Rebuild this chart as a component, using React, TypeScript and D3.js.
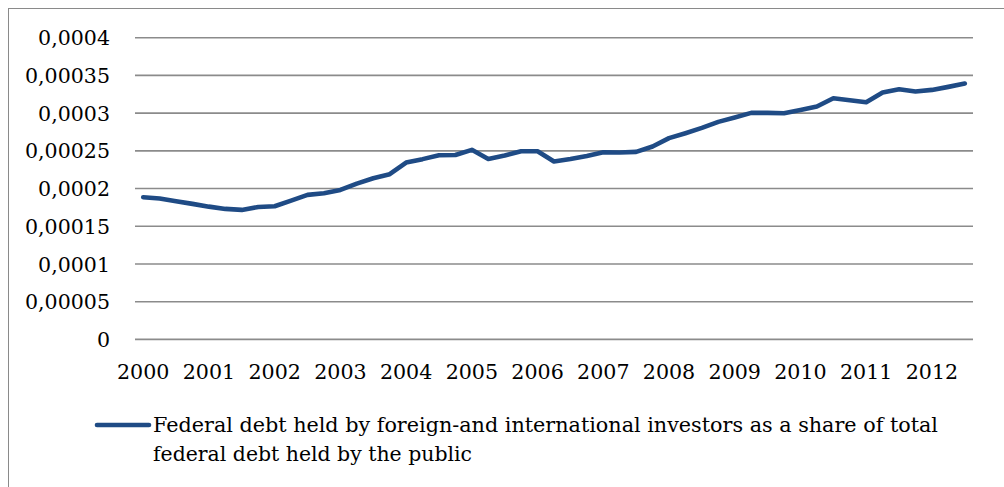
import React from "react";
import * as d3 from "d3";

const years = ["2000","2001","2002","2003","2004","2005","2006","2007","2008","2009","2010","2011","2012"];
// quarterly observations 2000Q1 .. 2012Q3 (in units of 1e-5)
const seriesValues = [
  18.85, 18.67, 18.32, 17.97, 17.6, 17.3, 17.17, 17.55, 17.66, 18.4,
  19.16, 19.38, 19.82, 20.66, 21.37, 21.9, 23.45, 23.9, 24.42, 24.45,
  25.13, 23.93, 24.37, 24.95, 24.95, 23.58, 23.93, 24.33, 24.82, 24.77,
  24.86, 25.57, 26.68, 27.34, 28.04, 28.84, 29.41, 30.03, 30.03, 29.99,
  30.43, 30.87, 31.98, 31.71, 31.45, 32.73, 33.17, 32.86, 33.08, 33.48,
  33.92,
];
const yTicks = [0, 0.00005, 0.0001, 0.00015, 0.0002, 0.00025, 0.0003, 0.00035, 0.0004];
const yTickLabels = ["0", "0,00005", "0,0001", "0,00015", "0,0002", "0,00025", "0,0003", "0,00035", "0,0004"];
const legendLines = [
  "Federal debt held by foreign-and international investors as a share of total",
  "federal debt held by the public",
];

const W = 1004;
const H = 487;
const FONT = "'DejaVu Serif', 'Liberation Serif', 'Noto Serif', Tinos, Times, serif";
const LINE_COLOR = "#1F4B85";
const GRID_COLOR = "#8B8B8B";
const FS = 21;

// approximate advance width of a tick label in the reference (digits ~13.2px, comma ~6.6px)
const labelWidth = (s: string) =>
  s.split("").reduce((w, ch) => w + (ch === "," ? 6.4 : 13.1), 0);

export default function App() {
  const data = seriesValues.map((v, i) => ({ i, v: v * 1e-5 }));
  const x = d3.scaleBand<number>().domain(data.map((d) => d.i)).range([135, 973]).padding(0);
  const y = d3.scaleLinear().domain([0, 0.0004]).range([339.4, 37.7]);
  const cx = (i: number) => (x(i) as number) + x.bandwidth() / 2;
  const line = d3.line<{ i: number; v: number }>().x((d) => cx(d.i)).y((d) => y(d.v));

  return (
    <svg width={W} height={H} style={{ position: "absolute", left: 0, top: 0, background: "#fff", fontFamily: FONT }}>
      <rect x={8.5} y={8.5} width={1200} height={800} fill="#fff" stroke="#8a8a8a" strokeWidth={1} />
      {yTicks.map((t, k) => {
        const w = labelWidth(yTickLabels[k]);
        return (
          <g key={k}>
            <line x1={135} x2={973} y1={y(t)} y2={y(t)} stroke={GRID_COLOR} strokeWidth={1.6} />
            <text x={110 - w} y={y(t) + 7.6} style={{ fontFamily: FONT }} fontSize={FS} fill="#000"
              textLength={w} lengthAdjust="spacingAndGlyphs">
              {yTickLabels[k]}
            </text>
          </g>
        );
      })}
      {years.map((yr, k) => {
        const w = labelWidth(yr);
        return (
          <text key={yr} x={cx(k * 4) - w / 2} y={378.5} style={{ fontFamily: FONT }} fontSize={FS} fill="#000"
            textLength={w} lengthAdjust="spacingAndGlyphs">
            {yr}
          </text>
        );
      })}
      <path d={line(data) || ""} fill="none" stroke={LINE_COLOR} strokeWidth={4.6} strokeLinejoin="round" strokeLinecap="round" />
      <line x1={97} x2={149} y1={425} y2={425} stroke={LINE_COLOR} strokeWidth={4.6} strokeLinecap="round" />
      <text x={153} y={432} style={{ fontFamily: FONT }} fontSize={FS} fill="#000" textLength={785} lengthAdjust="spacingAndGlyphs">
        {legendLines[0]}
      </text>
      <text x={153} y={461} style={{ fontFamily: FONT }} fontSize={FS} fill="#000" textLength={319} lengthAdjust="spacingAndGlyphs">
        {legendLines[1]}
      </text>
    </svg>
  );
}
